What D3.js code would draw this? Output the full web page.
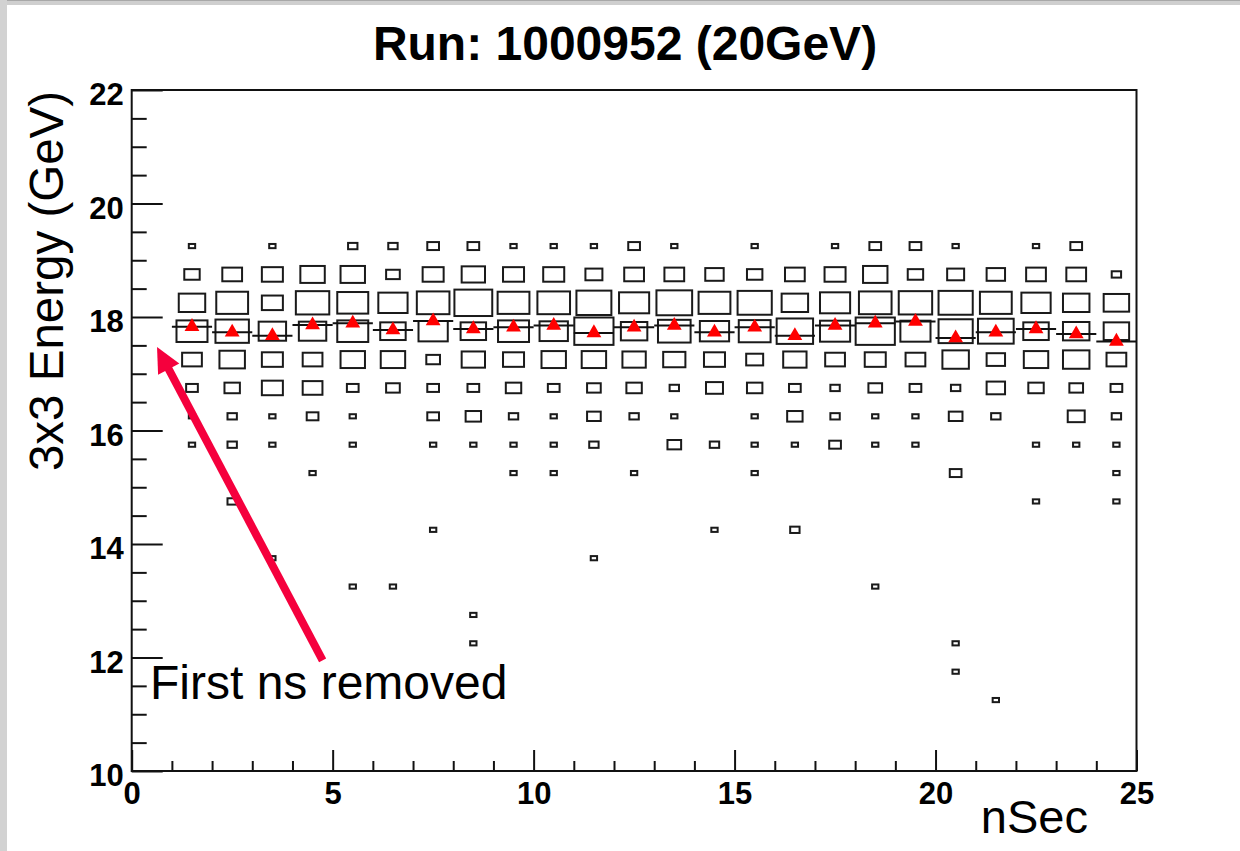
<!DOCTYPE html>
<html>
<head>
<meta charset="utf-8">
<script src="https://cdn.jsdelivr.net/npm/d3@7"></script>
<style>
  html, body { margin: 0; padding: 0; background: #fff; }
  svg { display: block; }
  text { font-family: "Liberation Sans", Arial, sans-serif; }
</style>
</head>
<body>
<svg id="chart" width="1240" height="851"></svg>
<script>
// ---------------- DATA ----------------
const title = "Run: 1000952 (20GeV)";
const xLabel = "nSec";
const yLabel = "3x3 Energy (GeV)";
const annotation = "First ns removed";

// x bin centres (nSec), 1 ns bins from 1 to 25
const nsBins = [1.5,2.5,3.5,4.5,5.5,6.5,7.5,8.5,9.5,10.5,11.5,12.5,13.5,14.5,15.5,16.5,17.5,18.5,19.5,20.5,21.5,22.5,23.5,24.5];
// y bin centres (GeV), 0.5 GeV bins
const energyBins = [19.25,18.75,18.25,17.75,17.25,16.75,16.25,15.75,15.25,14.75,14.25,13.75,13.25,12.75,12.25,11.75,11.25];

// counts per energy row, one value per nSec bin
const row19_25 = [1,0,1,0,2,2,3,3,1,1,1,3,1,0,1,0,1,3,3,1,0,1,3,0];
const row18_75 = [5,8,9,12,12,4,9,11,9,9,6,8,8,7,5,8,9,12,5,6,7,8,8,2];
const row18_25 = [14,20,9,22,19,17,21,28,20,21,24,18,25,20,23,14,18,21,22,23,20,17,14,13];
const row17_75 = [19,22,15,15,19,13,17,13,19,16,30,14,21,17,20,26,18,30,18,23,25,13,14,13];
const row17_25 = [8,13,9,8,12,12,4,11,9,12,12,11,10,9,6,11,8,9,8,14,7,12,14,8];
const row16_75 = [3,5,9,8,3,4,3,3,5,3,4,5,2,6,5,3,2,4,3,2,7,5,4,3];
const row16_25 = [1,2,1,3,1,0,3,5,2,1,4,2,1,0,1,5,2,1,1,4,2,0,6,2];
const row15_75 = [1,2,1,0,1,0,1,1,1,1,2,0,4,2,1,1,3,1,1,0,0,1,1,1];
const row15_25 = [0,0,0,1,0,0,0,0,1,1,0,1,0,0,1,0,0,0,0,3,0,0,0,1];
const row14_75 = [0,2,0,0,0,0,0,0,0,0,0,0,0,0,0,0,0,0,0,0,0,1,0,1];
const row14_25 = [0,0,0,0,0,0,1,0,0,0,0,0,0,1,0,2,0,0,0,0,0,0,0,0];
const row13_75 = [0,0,1,0,0,0,0,0,0,0,1,0,0,0,0,0,0,0,0,0,0,0,0,0];
const row13_25 = [0,0,0,0,1,1,0,0,0,0,0,0,0,0,0,0,0,1,0,0,0,0,0,0];
const row12_75 = [0,0,0,0,0,0,0,1,0,0,0,0,0,0,0,0,0,0,0,0,0,0,0,0];
const row12_25 = [0,0,0,0,0,0,0,1,0,0,0,0,0,0,0,0,0,0,0,1,0,0,0,0];
const row11_75 = [0,0,0,0,0,0,0,0,0,0,0,0,0,0,0,0,0,0,0,1,0,0,0,0];
const row11_25 = [0,0,0,0,0,0,0,0,0,0,0,0,0,0,0,0,0,0,0,0,1,0,0,0];
const countRows = [row19_25,row18_75,row18_25,row17_75,row17_25,row16_75,row16_25,row15_75,row15_25,row14_75,row14_25,row13_75,row13_25,row12_75,row12_25,row11_75,row11_25];

// profile mean energy per nSec bin
const profileMean = [17.83,17.73,17.67,17.86,17.89,17.77,17.93,17.79,17.82,17.85,17.72,17.82,17.85,17.73,17.82,17.67,17.85,17.89,17.92,17.63,17.73,17.79,17.70,17.57];

// axis ticks
const xMajorTicks = [0,5,10,15,20,25];
const xMinorTicks = [1,2,3,4,6,7,8,9,11,12,13,14,16,17,18,19,21,22,23,24];
const yMajorTicks = [10,12,14,16,18,20,22];
const yMinorTicks = [10.5,11,11.5,12.5,13,13.5,14.5,15,15.5,16.5,17,17.5,18.5,19,19.5,20.5,21,21.5];

// ---------------- DRAW ----------------
const svg = d3.select("#chart");
const W = 1240, H = 851;
const plot = {left: 131.7, right: 1136.5, top: 90, bottom: 771};

// page background + grey window borders
svg.append("rect").attr("x",0).attr("y",0).attr("width",W).attr("height",H).attr("fill","#fff");
svg.append("rect").attr("x",0).attr("y",0).attr("width",W).attr("height",5).attr("fill","#cfcfcf");
svg.append("rect").attr("x",0).attr("y",0).attr("width",W).attr("height",1).attr("fill","#a8a8a8");
svg.append("rect").attr("x",0).attr("y",0).attr("width",7).attr("height",H).attr("fill","#d2d2d2");

const x = d3.scaleLinear().domain([0,25]).range([plot.left, plot.right]);
const y = d3.scaleLinear().domain([10,22]).range([plot.bottom, plot.top]);

const binW = x(1) - x(0);
const binH = y(0) - y(0.5);
const maxCount = 30;
const sizeScale = d3.scaleSqrt().domain([0, maxCount]).range([0, 1]);
const boxStroke = 2;

// box cells
const cells = [];
countRows.forEach((row, i) => {
  row.forEach((c, j) => {
    if (c > 0) cells.push({x: nsBins[j], y: energyBins[i], c});
  });
});
const bw = d => Math.max(binW*sizeScale(d.c) - 1, 3);
const bh = d => Math.max(binH*sizeScale(d.c) - 1, 2.5);

svg.append("g").selectAll("rect").data(cells).join("rect")
  .attr("x", d => x(d.x) - bw(d)/2)
  .attr("y", d => y(d.y) - bh(d)/2)
  .attr("width", bw)
  .attr("height", bh)
  .attr("fill", "none")
  .attr("stroke", "#1a1a1a")
  .attr("stroke-width", boxStroke);

// profile: horizontal bin-width bars at the mean + red triangles
const prof = nsBins.map((b, i) => ({x: b, m: profileMean[i]}));
svg.append("g").selectAll("line").data(prof).join("line")
  .attr("x1", d => x(d.x - 0.5)).attr("x2", d => x(d.x + 0.5))
  .attr("y1", d => y(d.m)).attr("y2", d => y(d.m))
  .attr("stroke", "#111").attr("stroke-width", 2);

svg.append("g").selectAll("path").data(prof).join("path")
  .attr("d", d3.symbol().type(d3.symbolTriangle).size(95))
  .attr("transform", d => `translate(${x(d.x)},${y(d.m)})`)
  .attr("fill", "#ff0000");

// axes: ticks inside frame
const axisG = svg.append("g");
axisG.append("g").attr("transform", `translate(0,${plot.bottom})`)
  .call(d3.axisTop(x).tickValues(xMajorTicks).tickSize(21).tickFormat(""))
  .call(g => g.select(".domain").remove());
axisG.append("g").attr("transform", `translate(0,${plot.bottom})`)
  .call(d3.axisTop(x).tickValues(xMinorTicks).tickSize(10).tickFormat(""))
  .call(g => g.select(".domain").remove());
axisG.append("g").attr("transform", `translate(${plot.left},0)`)
  .call(d3.axisRight(y).tickValues(yMajorTicks).tickSize(31).tickFormat(""))
  .call(g => g.select(".domain").remove());
axisG.append("g").attr("transform", `translate(${plot.left},0)`)
  .call(d3.axisRight(y).tickValues(yMinorTicks).tickSize(15).tickFormat(""))
  .call(g => g.select(".domain").remove());
axisG.selectAll(".tick line").attr("stroke", "#111").attr("stroke-width", 2);

// tick labels
const xl = svg.append("g").attr("transform", `translate(0,${plot.bottom})`)
  .call(d3.axisBottom(x).tickValues(xMajorTicks).tickSize(0).tickPadding(11).tickFormat(d3.format("d")));
xl.select(".domain").remove();
xl.selectAll("text").attr("font-size", 31).attr("font-weight", "bold").attr("fill", "#000")
  .style("font-family", '"Liberation Sans", Arial, sans-serif');

const yl = svg.append("g").attr("transform", `translate(${plot.left},0)`)
  .call(d3.axisLeft(y).tickValues(yMajorTicks).tickSize(0).tickPadding(8).tickFormat(d3.format("d")));
yl.select(".domain").remove();
yl.selectAll("text").attr("font-size", 31).attr("font-weight", "bold").attr("fill", "#000")
  .attr("dy", "0.48em")
  .style("font-family", '"Liberation Sans", Arial, sans-serif');

// frame
svg.append("rect")
  .attr("x", plot.left).attr("y", plot.top)
  .attr("width", plot.right - plot.left).attr("height", plot.bottom - plot.top)
  .attr("fill", "none").attr("stroke", "#111").attr("stroke-width", 2);

// titles
svg.append("text").attr("x", 625).attr("y", 60).attr("text-anchor", "middle")
  .attr("font-size", 48).attr("font-weight", "bold").text(title);
svg.append("text").attr("transform", "translate(63,281) rotate(-90)").attr("text-anchor", "middle")
  .attr("font-size", 47.5).text(yLabel);
svg.append("text").attr("x", 1088).attr("y", 833).attr("text-anchor", "end")
  .attr("font-size", 47).text(xLabel);

// annotation arrow
const arrowColor = "#f5003d";
const tip = [x(0.63), y(17.47)];
const tail = [x(4.75), y(11.95)];
const ang = Math.atan2(tail[1]-tip[1], tail[0]-tip[0]);
const headLen = 25, headHalf = 12;
const ux = Math.cos(ang), uy = Math.sin(ang);
const baseC = [tip[0] + ux*headLen, tip[1] + uy*headLen];
svg.append("line")
  .attr("x1", tail[0]).attr("y1", tail[1])
  .attr("x2", baseC[0] - ux*2).attr("y2", baseC[1] - uy*2)
  .attr("stroke", arrowColor).attr("stroke-width", 8);
svg.append("path")
  .attr("d", d3.line()([
    tip,
    [baseC[0] - uy*headHalf, baseC[1] + ux*headHalf],
    [baseC[0] + uy*headHalf, baseC[1] - ux*headHalf]
  ]) + "Z")
  .attr("fill", arrowColor);

svg.append("text").attr("x", 150).attr("y", 699).attr("font-size", 48).text(annotation);
</script>
</body>
</html>
